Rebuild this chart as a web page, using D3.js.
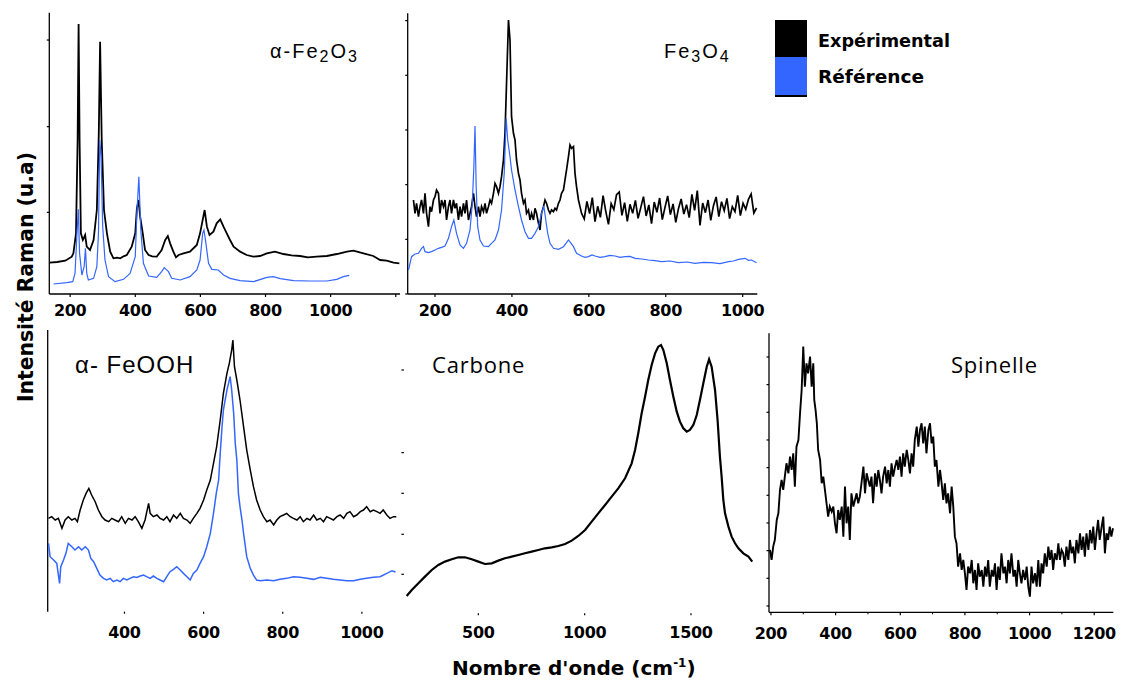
<!DOCTYPE html>
<html><head><meta charset="utf-8">
<script src="https://cdn.jsdelivr.net/npm/d3@7/dist/d3.min.js"></script>
<style>body{margin:0;background:#fff}svg{display:block}</style>
</head><body>
<script>
// ---------------- DATA (wavenumber cm-1, intensity a.u.) ----------------
const fe2o3Exp = [[137,9.4],[160,9.6],[185,10.0],[205,11.2],[210,12.2],[218,18.2],[223,46.2],[226,81.0],[229,46.2],[233,18.2],[239,16.2],[246,17.7],[251,14.2],[261,13.2],[272,16.2],[282,25.2],[288,48.2],[292,75.7],[297,46.2],[304,25.2],[313,18.2],[323,12.7],[333,10.7],[344,10.9],[354,10.7],[364,11.3],[374,11.7],[389,14.2],[400,18.2],[405,25.7],[410,28.2],[415,23.2],[423,18.2],[430,13.2],[441,11.7],[452,11.3],[466,11.2],[481,13.2],[492,16.2],[500,17.4],[507,15.2],[517,12.7],[525,11.0],[533,11.7],[548,12.2],[568,12.7],[589,14.7],[599,18.2],[609,23.2],[613,25.2],[620,20.2],[628,17.7],[640,18.7],[650,21.2],[661,22.4],[671,20.2],[681,18.2],[691,16.2],[702,14.2],[722,12.7],[742,11.7],[762,11.2],[783,11.4],[804,12.2],[829,12.7],[855,12.0],[880,11.6],[906,11.4],[930,11.0],[957,11.2],[988,11.4],[1019,12.0],[1050,12.7],[1070,13.0],[1101,12.2],[1131,11.4],[1152,10.2],[1172,10.0],[1193,9.4],[1211,9.2]];
const fe2o3Ref = [[149,3.0],[190,3.4],[208,3.7],[215,6.2],[220,16.2],[225,25.4],[229,12.2],[236,5.7],[243,8.2],[247,13.7],[251,6.2],[256,4.2],[272,4.7],[282,8.2],[287,18.2],[291,46.2],[295,41.2],[300,20.2],[307,10.2],[318,5.2],[338,3.7],[364,4.4],[384,6.2],[400,11.2],[405,24.2],[411,35.2],[417,19.2],[425,9.2],[441,5.4],[466,5.0],[481,6.7],[489,7.9],[502,6.7],[512,4.7],[538,4.2],[568,5.2],[589,7.2],[599,10.2],[607,18.2],[611,19.2],[617,15.2],[625,9.2],[635,7.4],[655,7.2],[671,5.7],[691,4.7],[722,4.0],[763,3.7],[804,5.0],[824,5.2],[845,4.6],[886,4.0],[937,3.9],[988,3.9],[1019,4.4],[1039,5.2],[1057,5.6]];

const fe3o4Exp = [[144,28.2],[148,24.2],[152,27.2],[157,23.2],[161,26.2],[165,28.2],[170,24.2],[174,30.2],[178,24.2],[183,20.2],[187,26.2],[191,24.7],[196,28.2],[200,29.2],[204,31.2],[209,30.2],[213,24.2],[217,28.2],[222,26.2],[226,28.2],[230,22.2],[235,26.2],[239,28.2],[243,24.2],[248,28.2],[252,25.7],[256,27.2],[261,22.2],[265,26.2],[269,23.2],[274,27.2],[278,24.2],[282,28.2],[287,22.2],[291,24.2],[295,26.2],[300,30.2],[304,26.2],[308,23.2],[313,26.2],[317,23.2],[321,26.2],[326,24.7],[330,27.2],[334,24.2],[339,26.2],[343,28.2],[347,27.2],[352,30.2],[356,33.2],[360,32.2],[365,30.2],[369,32.2],[373,35.2],[378,40.2],[382,48.2],[386,63.2],[391,82.2],[395,76.2],[399,53.2],[404,48.2],[408,46.2],[412,40.2],[417,36.2],[421,34.2],[425,30.2],[430,27.2],[434,28.2],[438,24.2],[443,25.2],[447,22.2],[451,24.2],[456,22.2],[460,25.7],[464,24.2],[469,21.2],[473,19.2],[477,24.2],[482,26.2],[486,28.2],[490,27.2],[495,25.2],[499,24.2],[503,25.2],[508,24.7],[512,25.7],[516,25.2],[521,27.2],[525,28.2],[529,30.2],[534,31.2],[538,34.2],[542,37.2],[547,41.2],[551,44.7],[555,43.7],[560,44.2],[564,36.2],[568,32.2],[573,28.2],[577,26.2],[581,24.2],[588,22.5],[595,27.8],[602,24.1],[609,28.9],[616,21.7],[623,26.3],[630,23.0],[637,29.5],[644,24.8],[651,20.9],[658,27.1],[665,25.3],[672,29.8],[679,30.6],[686,23.6],[693,27.4],[700,21.8],[707,26.9],[714,24.2],[721,28.1],[728,22.7],[735,25.9],[742,29.2],[749,23.4],[756,26.7],[763,21.1],[770,27.6],[777,24.5],[784,28.8],[791,22.3],[798,26.0],[805,29.4],[812,23.8],[819,27.0],[826,21.5],[833,25.6],[840,28.5],[847,24.0],[854,26.8],[861,22.9],[868,29.9],[875,25.1],[882,31.0],[889,20.6],[896,27.3],[903,24.4],[910,28.2],[917,22.1],[924,26.5],[931,29.1],[938,23.2],[945,27.7],[952,25.0],[959,28.7],[966,22.6],[973,26.2],[980,24.7],[987,29.6],[994,23.5],[1001,27.2],[1008,25.4],[1015,28.4],[1022,30.0],[1029,24.3],[1036,25.8]];
const fe3o4Ref = [[131,7.2],[135,9.2],[139,11.2],[148,12.0],[157,12.2],[165,13.7],[170,14.2],[174,12.7],[183,12.4],[191,12.7],[200,13.2],[209,13.7],[217,14.0],[226,14.4],[235,16.7],[243,20.2],[249,22.2],[256,18.2],[265,14.7],[274,13.7],[282,15.2],[291,19.2],[297,27.2],[301,38.2],[304,50.4],[307,32.2],[311,20.2],[317,16.2],[326,14.4],[339,14.2],[347,15.2],[356,16.2],[365,19.2],[373,25.2],[380,36.2],[385,52.7],[389,46.2],[395,41.2],[399,37.2],[408,31.2],[417,26.2],[425,22.2],[434,18.7],[443,16.7],[451,16.7],[460,18.2],[469,20.2],[477,24.2],[483,26.4],[488,22.2],[493,18.2],[499,15.2],[508,13.7],[521,13.4],[534,14.2],[542,15.4],[547,16.2],[554,15.2],[560,14.2],[568,12.2],[581,11.4],[590,11.0],[599,11.2],[608,11.7],[616,11.4],[629,11.0],[642,11.2],[655,11.6],[668,11.4],[681,11.0],[694,11.2],[707,11.3],[720,10.7],[738,10.5],[755,10.2],[772,10.0],[789,9.7],[811,9.9],[833,9.4],[855,9.6],[876,9.2],[898,9.5],[919,9.4],[941,9.1],[963,9.7],[976,9.9],[989,10.4],[1006,10.7],[1015,10.1],[1023,10.2],[1036,9.4]];

const feoohExp = [[208,28.0],[216,28.5],[225,27.5],[233,28.0],[242,25.0],[250,27.5],[258,28.5],[267,27.5],[275,28.0],[281,27.0],[288,30.5],[296,33.5],[303,35.5],[310,37.0],[317,35.0],[326,33.0],[334,30.5],[343,28.5],[351,27.5],[360,27.0],[368,28.0],[376,27.5],[385,27.0],[393,28.5],[402,26.5],[410,28.0],[419,27.5],[427,28.5],[435,27.0],[444,25.0],[452,27.5],[461,32.5],[465,29.5],[473,28.5],[482,29.0],[490,28.0],[499,27.5],[507,28.5],[515,27.0],[524,29.0],[532,28.0],[541,29.5],[549,28.0],[558,27.5],[566,26.5],[574,28.0],[583,29.5],[591,31.0],[600,33.5],[608,36.5],[617,39.5],[625,44.5],[633,49.5],[642,57.5],[650,65.5],[659,71.5],[665,74.5],[671,78.5],[674,81.5],[678,73.5],[684,69.5],[692,63.5],[701,55.5],[709,48.5],[718,42.5],[726,37.5],[734,33.5],[743,30.5],[751,28.5],[760,27.0],[768,27.5],[777,26.0],[785,27.5],[793,28.5],[802,29.0],[810,29.5],[819,28.5],[827,28.0],[836,27.5],[844,28.5],[852,27.0],[861,28.0],[869,27.5],[878,29.0],[886,27.5],[895,28.0],[903,27.0],[911,28.5],[920,28.0],[928,27.5],[937,28.5],[945,29.0],[954,28.0],[962,29.5],[970,30.0],[979,28.5],[987,29.0],[996,30.0],[1004,30.5],[1012,31.5],[1021,30.0],[1029,30.5],[1038,30.0],[1046,29.5],[1054,30.5],[1063,29.0],[1071,28.0],[1080,28.5],[1087,28.5]];
const feoohRef = [[208,20.5],[212,16.5],[221,15.5],[229,14.5],[236,8.5],[239,13.5],[246,15.5],[252,17.5],[258,20.5],[267,19.5],[275,18.5],[284,19.5],[292,18.5],[301,19.5],[309,18.5],[315,16.0],[322,15.0],[330,13.0],[338,11.0],[347,10.0],[355,9.5],[364,10.0],[372,9.0],[381,9.5],[389,9.0],[397,10.0],[406,9.5],[414,10.0],[423,10.5],[431,10.3],[440,10.7],[448,11.0],[456,10.5],[465,10.0],[473,10.7],[482,10.0],[490,9.5],[499,9.0],[507,10.5],[515,12.0],[524,12.7],[532,13.5],[541,12.5],[549,11.5],[558,10.5],[566,9.5],[574,11.5],[583,12.5],[591,14.5],[600,16.5],[608,19.5],[617,23.5],[625,29.5],[632,35.5],[638,39.5],[642,47.5],[646,54.5],[650,60.5],[659,66.5],[667,70.5],[671,66.5],[676,59.5],[680,50.5],[684,45.5],[688,35.5],[692,31.5],[697,27.5],[701,23.5],[709,16.5],[718,13.0],[726,11.0],[734,9.5],[743,9.3],[760,9.5],[777,9.3],[793,9.7],[810,10.0],[827,10.5],[844,10.3],[861,10.0],[878,9.7],[895,10.3],[911,10.0],[928,9.7],[945,9.5],[962,9.3],[979,9.3],[996,9.7],[1012,10.0],[1029,10.3],[1046,10.5],[1063,11.5],[1076,12.3],[1085,11.9]];

const carboneExp = [[163,5.2],[187,7.0],[218,9.0],[249,11.0],[281,13.0],[312,14.5],[343,15.5],[375,16.2],[406,16.8],[437,16.8],[469,16.2],[500,15.5],[531,14.8],[563,15.0],[594,15.8],[625,16.5],[657,17.0],[688,17.5],[719,18.0],[751,18.5],[782,19.0],[813,19.5],[845,19.8],[876,20.2],[908,20.8],[939,21.8],[970,23.2],[1002,25.0],[1033,27.5],[1064,30.0],[1096,32.5],[1127,35.0],[1158,37.5],[1190,40.5],[1221,45.0],[1237,49.0],[1252,54.0],[1268,60.0],[1284,65.0],[1299,70.0],[1315,74.5],[1331,78.0],[1346,80.0],[1359,80.5],[1370,79.0],[1386,75.0],[1401,70.0],[1417,65.0],[1433,60.5],[1448,57.5],[1464,55.5],[1480,54.5],[1495,55.0],[1511,56.5],[1527,59.5],[1542,64.0],[1558,69.0],[1574,74.0],[1585,76.2],[1597,74.0],[1613,67.0],[1625,58.0],[1636,47.0],[1644,41.0],[1652,34.0],[1660,30.0],[1676,26.0],[1691,23.0],[1707,21.0],[1723,19.5],[1746,18.0],[1770,17.0],[1788,15.5]];

const spinelleExp = [[197,18.7],[202,15.7],[207,19.7],[212,21.7],[218,27.7],[223,29.7],[228,36.7],[233,39.7],[238,36.7],[243,40.7],[248,44.7],[254,41.7],[259,46.7],[264,42.7],[269,47.7],[274,37.7],[279,49.7],[285,51.7],[290,59.7],[295,66.7],[300,79.7],[305,67.7],[310,74.7],[315,71.7],[321,76.7],[326,67.7],[331,74.7],[334,63.7],[338,60.7],[342,56.7],[346,48.7],[352,45.7],[357,38.7],[362,40.7],[367,36.7],[372,32.7],[377,28.7],[382,31.7],[388,30.2],[393,31.7],[398,26.7],[403,23.7],[408,30.7],[413,27.7],[419,31.7],[424,22.7],[429,37.7],[434,26.7],[439,31.7],[444,21.7],[449,35.7],[455,31.7],[460,33.7],[465,35.7],[470,32.7],[475,34.7],[480,38.7],[486,43.7],[491,35.7],[496,41.7],[501,39.7],[506,37.7],[511,40.7],[516,32.7],[522,41.7],[527,37.7],[532,42.7],[537,39.7],[542,35.7],[547,40.7],[553,43.7],[558,38.7],[563,42.7],[568,37.7],[573,44.7],[578,40.7],[584,43.7],[589,45.7],[594,42.7],[599,46.7],[604,40.7],[609,47.7],[614,43.7],[620,48.7],[625,45.7],[630,41.7],[635,47.7],[640,43.7],[645,51.7],[651,55.7],[656,49.7],[661,54.7],[666,56.7],[671,50.7],[676,55.7],[681,47.7],[687,54.7],[692,56.7],[697,50.7],[702,52.7],[707,43.7],[712,45.7],[718,37.7],[723,42.7],[728,38.7],[733,33.7],[738,38.7],[743,32.7],[748,35.7],[754,29.7],[759,37.7],[764,31.7],[769,22.7],[774,20.7],[779,13.7],[785,17.7],[790,12.7],[795,15.7],[800,11.7],[805,6.7],[810,13.7],[816,11.7],[821,15.7],[826,8.7],[831,12.7],[836,6.7],[841,14.7],[846,10.7],[852,12.7],[857,7.7],[862,13.7],[867,10.7],[872,15.7],[877,7.7],[883,12.7],[888,10.7],[893,14.7],[898,6.7],[903,13.7],[908,9.7],[913,17.7],[919,11.7],[924,13.7],[929,8.7],[934,15.7],[939,11.7],[944,17.7],[950,10.7],[955,12.7],[960,7.7],[965,15.7],[970,11.7],[975,8.7],[980,12.7],[986,9.7],[991,13.7],[996,7.7],[1001,4.7],[1006,13.7],[1011,8.7],[1017,11.7],[1022,7.7],[1027,15.7],[1032,7.7],[1037,14.7],[1042,11.7],[1047,17.7],[1053,13.7],[1058,19.7],[1063,15.7],[1068,18.7],[1073,12.7],[1078,17.7],[1084,15.7],[1089,20.7],[1094,15.7],[1099,18.7],[1104,17.7],[1109,13.7],[1114,19.7],[1120,15.7],[1125,21.7],[1130,17.7],[1135,19.7],[1140,14.7],[1145,21.7],[1151,17.7],[1156,23.7],[1161,18.7],[1166,22.7],[1171,16.7],[1176,23.7],[1182,18.7],[1187,24.7],[1192,20.7],[1197,25.7],[1202,18.7],[1207,23.7],[1212,27.7],[1217,21.7],[1223,25.7],[1228,28.7],[1233,17.7],[1238,23.7],[1243,21.7],[1248,25.7],[1253,22.7],[1258,25.2]];

// ticks
const ticksFe2o3 = [200,400,600,800,1000,1200];
const labelsFe2o3 = ["200","400","600","800","1000",""];
const yTicksFe2o3 = [24.5,50.2,76.2];
const ticksFe3o4 = [200,400,600,800,1000];
const labelsFe3o4 = ["200","400","600","800","1000"];
const yTicksFe3o4 = [0,16.4,32.8,49.2,65.6,82];
const ticksFeooh = [400,600,800,1000];
const labelsFeooh = ["400","600","800","1000"];
const ticksCarbone = [500,1000,1500];
const labelsCarbone = ["500","1000","1500"];
const yTicksCarbone = [11.7,23.7,36,48.2,73];
const ticksSpinelle = [200,400,600,800,1000,1200];
const labelsSpinelle = ["200","400","600","800","1000","1200"];
const minorSpinelle = [300,500,700,900,1100];
const yTicksSpinelle = [1.9,10.2,18.5,26.8,35.1,43.4,51.7,60,68.3,76.6];

const legendLabels = ["Expérimental","Référence"];
const colors = {exp:"#000000", ref:"#3366ff"};

// ---------------- DRAW ----------------
const svg = d3.select("body").append("svg").attr("width",1124).attr("height",684);
const tickFont = "'DejaVu Sans', sans-serif";

function panel(p){
  const x = d3.scaleLinear().domain(p.xd).range(p.xr);
  const y = d3.scaleLinear().domain(p.yd).range(p.yr);
  const g = svg.append("g");
  if(p.yLine) g.append("line").attr("x1",p.xr[0]).attr("x2",p.xr[0]).attr("y1",p.yr[0]).attr("y2",p.yr[1]).attr("stroke","#000").attr("stroke-width",1.3);
  if(p.xLine) g.append("line").attr("x1",p.xr[0]).attr("x2",p.xr[1]).attr("y1",p.yr[0]).attr("y2",p.yr[0]).attr("stroke","#000").attr("stroke-width",1.3);
  p.xt.forEach((t,i)=>{
    g.append("line").attr("x1",x(t)).attr("x2",x(t)).attr("y1",p.yr[0]).attr("y2",p.yr[0]+p.tl).attr("stroke","#000").attr("stroke-width",1.2);
    if(p.xl[i]) g.append("text").attr("x",x(t)).attr("y",p.yr[0]+p.lblDy).attr("text-anchor","middle")
      .attr("font-family",tickFont).attr("font-weight","bold").attr("font-size",16).attr("letter-spacing",-0.3).text(p.xl[i]);
  });
  (p.xm||[]).forEach(t=>{
    g.append("line").attr("x1",x(t)).attr("x2",x(t)).attr("y1",p.yr[0]).attr("y2",p.yr[0]+2).attr("stroke","#000").attr("stroke-width",1);
  });
  (p.yt||[]).forEach(t=>{
    g.append("line").attr("x1",p.xr[0]-2.5).attr("x2",p.xr[0]).attr("y1",y(t)).attr("y2",y(t)).attr("stroke","#000").attr("stroke-width",1.2);
  });
  const line = d3.line().x(d=>x(d[0])).y(d=>y(d[1]));
  p.series.forEach(s=>{
    g.append("path").datum(s.data).attr("d",line).attr("fill","none").attr("stroke",s.color).attr("stroke-width",s.w).attr("stroke-linejoin","miter");
  });
  return g;
}

panel({xd:[136,1213],xr:[49.3,400],yd:[0,84.4],yr:[294,12.7],yLine:true,xLine:true,
  xt:ticksFe2o3,xl:labelsFe2o3,tl:3,lblDy:22,yt:yTicksFe2o3,
  series:[{data:fe2o3Exp,color:colors.exp,w:1.8},{data:fe2o3Ref,color:colors.ref,w:1.2}]});
panel({xd:[129,1038],xr:[407.7,757.3],yd:[0,84.2],yr:[294,13.3],yLine:true,xLine:true,
  xt:ticksFe3o4,xl:labelsFe3o4,tl:3,lblDy:22,yt:yTicksFe3o4,
  series:[{data:fe3o4Exp,color:colors.exp,w:1.7},{data:fe3o4Ref,color:colors.ref,w:1.2}]});
panel({xd:[206,1088],xr:[47.7,396.7],yd:[0,84.5],yr:[611.7,330],yLine:true,xLine:false,
  xt:ticksFeooh,xl:labelsFeooh,tl:2,lblDy:26,yt:[],
  series:[{data:feoohRef,color:colors.ref,w:1.5},{data:feoohExp,color:colors.exp,w:1.5}]});
panel({xd:[150,1800],xr:[403.9,754.8],yd:[0,85],yr:[613.3,330],yLine:false,xLine:false,
  xt:ticksCarbone,xl:labelsCarbone,tl:2,lblDy:25,yt:yTicksCarbone,
  series:[{data:carboneExp,color:colors.exp,w:2.2}]});
panel({xd:[194,1259],xr:[769,1113.3],yd:[0,83.7],yr:[612.3,333.3],yLine:true,xLine:true,
  xt:ticksSpinelle,xl:labelsSpinelle,xm:minorSpinelle,tl:3,lblDy:27,yt:yTicksSpinelle,
  series:[{data:spinelleExp,color:colors.exp,w:1.9}]});

// titles
const titleFont = "'Liberation Sans', 'DejaVu Sans', sans-serif";
function title(xp,yp,parts,size,ls){
  const t = svg.append("text").attr("x",xp).attr("y",yp).attr("font-family",titleFont).attr("font-size",size)
    .attr("letter-spacing",ls).attr("fill","#000");
  parts.forEach(pt=>{
    const s = t.append("tspan").text(pt.t);
    if(pt.sub){ s.attr("font-size",size*0.8).attr("dy",4); }
    if(pt.back){ s.attr("dy",-4); }
  });
}
title(270,58,[{t:"α-Fe"},{t:"2",sub:true},{t:"O",back:true},{t:"3",sub:true}],20,2);
title(664,58,[{t:"Fe"},{t:"3",sub:true},{t:"O",back:true},{t:"4",sub:true}],20,2);
title(75,373,[{t:"α- FeOOH"}],24,1);
svg.append("text").attr("x",432).attr("y",373).attr("font-family","'Open Sans','DejaVu Sans',sans-serif").attr("font-size",22).attr("letter-spacing",0.8).text("Carbone");
svg.append("text").attr("x",951).attr("y",373).attr("font-family","'Open Sans','DejaVu Sans',sans-serif").attr("font-size",22).attr("letter-spacing",0.8).text("Spinelle");

// legend
const lg = svg.append("g");
lg.append("rect").attr("x",775).attr("y",20).attr("width",32).attr("height",37).attr("fill",colors.exp);
lg.append("rect").attr("x",775).attr("y",57).attr("width",32).attr("height",38).attr("fill",colors.ref);
lg.append("rect").attr("x",775).attr("y",95).attr("width",32).attr("height",2).attr("fill","#000");
legendLabels.forEach((l,i)=>{
  lg.append("text").attr("x",818).attr("y",47+i*36).attr("font-family",tickFont).attr("font-weight","bold").attr("font-size",17)
    .attr("textLength",i===0?132:106).attr("lengthAdjust","spacingAndGlyphs").text(l);
});

// axis labels
svg.append("text").attr("transform","translate(33,277) rotate(-90)").attr("text-anchor","middle")
  .attr("font-family",tickFont).attr("font-weight","bold").attr("font-size",21)
  .attr("textLength",250).attr("lengthAdjust","spacingAndGlyphs").text("Intensité Raman  (u.a)");
const xl = svg.append("text").attr("x",452).attr("y",675).attr("font-family",tickFont).attr("font-weight","bold").attr("font-size",20);
xl.append("tspan").text("Nombre d'onde (cm");
xl.append("tspan").attr("font-size",12).attr("dy",-8).text("-1");
xl.append("tspan").attr("dy",8).text(")");
</script>
</body></html>
